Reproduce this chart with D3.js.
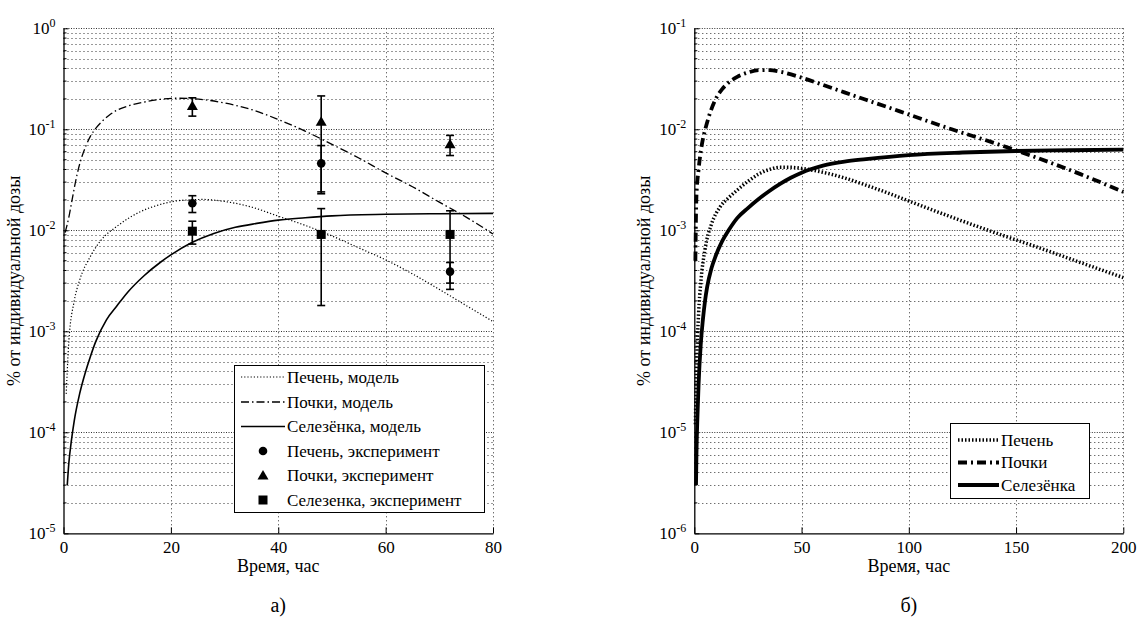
<!DOCTYPE html>
<html><head><meta charset="utf-8">
<script src="https://cdn.jsdelivr.net/npm/d3@7"></script>
<style>
body{margin:0;background:#fff}
svg{display:block}
svg text{font-family:"Liberation Serif","Tinos","Times New Roman","DejaVu Serif",serif;fill:#000}
</style>
</head><body>
<svg id="c" width="1138" height="630"></svg>
<script>
// ---------- DATA: panel а) ----------
const aXTicks = [0, 20, 40, 60, 80];
const aYExp = [0, -1, -2, -3, -4, -5];
const aLiverT = [0.5,1,2,3,5,7,10,14,18,22,26,30,35,40,45,50,55,60,65,70,75,80];
const aLiverV = [2.4e-4,8e-4,2e-3,3.2e-3,5.5e-3,8e-3,0.011,0.015,0.018,0.0198,0.0202,0.0193,0.017,0.0138,0.0112,0.0088,0.0067,0.0051,0.0037,0.0026,0.0018,0.00125];
const aKidneyT = [0.3,1,1.6,2.2,2.8,3.5,4.2,5,6,7,8.5,10,12,15,18,21,24,27,30,35,40,45,50,55,60,65,70,75,80];
const aKidneyV = [0.0095,0.0135,0.02,0.0295,0.041,0.055,0.069,0.085,0.102,0.117,0.138,0.155,0.17,0.186,0.198,0.203,0.201,0.194,0.182,0.157,0.125,0.096,0.071,0.052,0.037,0.027,0.019,0.0135,0.0092];
const aSpleenT = [0.7,1,1.5,2,3,4,5,6,8,10,12,15,18,20,24,28,32,36,40,45,50,60,70,80];
const aSpleenV = [3e-5,5e-5,8.5e-5,1.3e-4,2.4e-4,3.8e-4,5.6e-4,7.9e-4,1.3e-3,1.8e-3,2.45e-3,3.55e-3,4.8e-3,5.7e-3,7.6e-3,9.3e-3,0.0107,0.0117,0.0126,0.0133,0.0139,0.0144,0.0146,0.0147];
const expT = [24, 48, 72];
const expLiver = [0.0185, 0.046, 0.0039];
const expLiverErr = [0.0035, 0.023, 0.0009];
const expKidney = [0.17, 0.119, 0.071];
const expKidneyErr = [0.035, 0.095, 0.016];
const expSpleen = [0.0098, 0.0091, 0.0091];
const expSpleenErr = [0.0025, 0.0073, 0.0065];
const aLegend = ["Печень, модель","Почки, модель","Селезёнка, модель","Печень, эксперимент","Почки, эксперимент","Селезенка, эксперимент"];

// ---------- DATA: panel б) ----------
const bXTicks = [0, 50, 100, 150, 200];
const bYExp = [-1, -2, -3, -4, -5, -6];
const bLiverT = [0.5,1,2,3,5,8,12,16,20,25,30,35,40,45,50,60,70,80,90,100,120,140,160,180,200];
const bLiverV = [1.2e-5,4e-5,1.5e-4,3e-4,6.5e-4,1.15e-3,1.7e-3,2.1e-3,2.5e-3,3.05e-3,3.6e-3,4.0e-3,4.2e-3,4.2e-3,4.1e-3,3.75e-3,3.3e-3,2.8e-3,2.35e-3,1.95e-3,1.35e-3,9.5e-4,6.8e-4,4.8e-4,3.4e-4];
const bKidneyT = [0.5,1,2,3,4,5,7,10,13,16,20,25,30,35,40,50,60,70,80,90,100,120,140,160,180,200];
const bKidneyV = [5e-4,2.2e-3,4e-3,6e-3,8e-3,0.0098,0.0138,0.02,0.025,0.029,0.033,0.0365,0.0385,0.0385,0.0372,0.0325,0.0275,0.0232,0.0196,0.0166,0.014,0.01,0.0073,0.0052,0.0036,0.0024];
const bSpleenT = [0.8,1,1.5,2,3,4,5,6,8,10,13,16,20,25,30,35,40,45,50,60,70,80,100,125,150,175,200];
const bSpleenV = [3e-6,6e-6,1.5e-5,3e-5,7.4e-5,1.3e-4,2e-4,2.75e-4,4.2e-4,5.6e-4,7.8e-4,1.0e-3,1.32e-3,1.66e-3,2.04e-3,2.45e-3,2.88e-3,3.31e-3,3.72e-3,4.37e-3,4.79e-3,5.07e-3,5.56e-3,5.89e-3,6.1e-3,6.2e-3,6.3e-3];
const bLegend = ["Печень","Почки","Селезёнка"];

const yLabel = "% от индивидуальной дозы";
const xLabel = "Время, час";

// ---------- DRAW ----------
const FONT = '"Liberation Serif","Tinos","Times New Roman","DejaVu Serif",serif';
const svg = d3.select("#c").attr("font-family", FONT);

function panel(cfg){
  const g = svg.append("g");
  const x = d3.scaleLinear().domain([cfg.xTicks[0], cfg.xTicks[cfg.xTicks.length-1]]).range([cfg.x0, cfg.x1]);
  const yMax = Math.pow(10, cfg.yExp[0]), yMin = Math.pow(10, cfg.yExp[cfg.yExp.length-1]);
  const y = d3.scaleLog().domain([yMin, yMax]).range([cfg.yB, cfg.yT]);

  // grid
  const grid = g.append("g");
  const minorVals = [];
  for (let e = cfg.yExp[cfg.yExp.length-1]; e < cfg.yExp[0]; e++) {
    for (let m = 2; m <= 9; m++) minorVals.push(m * Math.pow(10, e));
  }
  grid.selectAll("line.mn").data(minorVals).join("line")
    .attr("x1", cfg.x0).attr("x2", cfg.x1)
    .attr("y1", d => Math.round(y(d)) + 0.5).attr("y2", d => Math.round(y(d)) + 0.5)
    .attr("stroke", "#333").attr("stroke-width", 1).attr("stroke-dasharray", "1,3");
  grid.selectAll("line.mj").data(cfg.yExp.slice(0, -1).map(e => Math.pow(10, e))).join("line")
    .attr("x1", cfg.x0).attr("x2", cfg.x1)
    .attr("y1", d => Math.round(y(d)) + 0.5).attr("y2", d => Math.round(y(d)) + 0.5)
    .attr("stroke", "#333").attr("stroke-width", 1).attr("stroke-dasharray", "1,1.5");
  grid.selectAll("line.vx").data(cfg.xTicks.slice(1)).join("line")
    .attr("x1", d => Math.round(x(d)) + 0.5).attr("x2", d => Math.round(x(d)) + 0.5)
    .attr("y1", cfg.yT).attr("y2", cfg.yB)
    .attr("stroke", "#333").attr("stroke-width", 1).attr("stroke-dasharray", "1,3");

  // axes
  const xa = g.append("g").attr("transform", `translate(0,${cfg.yB})`)
    .call(d3.axisBottom(x).tickValues(cfg.xTicks).tickSizeInner(-6).tickSizeOuter(0).tickPadding(8).tickFormat(d3.format("d")));
  xa.attr("font-family", FONT);
  xa.select(".domain").attr("stroke", "#000").attr("stroke-width", 1.3);
  xa.selectAll("text").attr("font-size", 17);

  const ya = g.append("g").attr("transform", `translate(${cfg.x0},0)`)
    .call(d3.axisLeft(y).tickValues(cfg.yExp.map(e => Math.pow(10, e))).tickSizeInner(-5).tickSizeOuter(0).tickPadding(8).tickFormat(""));
  ya.attr("font-family", FONT);
  ya.select(".domain").attr("stroke", "#000").attr("stroke-width", 1.3);
  ya.selectAll(".tick text").each(function(d){
    const t = d3.select(this).attr("font-size", 17);
    t.text(null);
    t.append("tspan").text("10");
    t.append("tspan").attr("font-size", 12).attr("dy", "-0.6em").text(String(Math.round(Math.log10(d))));
  });
  // minor ticks on y
  g.append("g").selectAll("line").data(minorVals).join("line")
    .attr("x1", cfg.x0).attr("x2", cfg.x0 + 3)
    .attr("y1", d => y(d)).attr("y2", d => y(d)).attr("stroke", "#000");

  // labels
  g.append("text").attr("x", (cfg.x0 + cfg.x1) / 2).attr("y", 572).attr("text-anchor", "middle")
    .attr("font-size", 18).text(xLabel);
  g.append("text").attr("transform", `translate(${cfg.yLabX},${(cfg.yT + cfg.yB) / 2}) rotate(-90)`)
    .attr("text-anchor", "middle").attr("font-size", 18).text(yLabel);
  g.append("text").attr("x", (cfg.x0 + cfg.x1) / 2).attr("y", 612).attr("text-anchor", "middle")
    .attr("font-size", 20).text(cfg.caption);

  const plot = g.append("g");
  const line = d3.line().x(d => x(d[0])).y(d => y(d[1])).curve(d3.curveMonotoneX);
  cfg.series.forEach(s => {
    plot.append("path").datum(d3.zip(s.t, s.v)).attr("d", line)
      .attr("fill", "none").attr("stroke", "#000").attr("stroke-width", s.w)
      .attr("stroke-dasharray", s.dash).attr("stroke-linecap", "butt");
  });
  return {g, x, y, plot};
}

function marker(sel, type, cx, cy){
  if (type === "circle") sel.append("circle").attr("cx", cx).attr("cy", cy).attr("r", 4.3).attr("fill", "#000");
  else if (type === "tri") sel.append("path").attr("d", `M${cx},${cy-5.5}L${cx+5.5},${cy+4}L${cx-5.5},${cy+4}Z`).attr("fill", "#000");
  else sel.append("rect").attr("x", cx - 4.5).attr("y", cy - 4.5).attr("width", 9).attr("height", 9).attr("fill", "#000");
}

const A = panel({
  x0: 63.5, x1: 493, yT: 28.3, yB: 533.3, xTicks: aXTicks, yExp: aYExp, yLabX: 20, caption: "а)",
  series: [
    {t: aLiverT, v: aLiverV, w: 1.2, dash: "1.2,2"},
    {t: aKidneyT, v: aKidneyV, w: 1.3, dash: "8,3,1.5,3"},
    {t: aSpleenT, v: aSpleenV, w: 1.6, dash: null}
  ]
});

// error bars + markers
const expSets = [
  {v: expKidney, e: expKidneyErr, m: "tri"},
  {v: expLiver, e: expLiverErr, m: "circle"},
  {v: expSpleen, e: expSpleenErr, m: "square"}
];
expSets.forEach(s => {
  expT.forEach((t, i) => {
    const cx = A.x(t);
    const hi = A.y(s.v[i] + s.e[i]), lo = A.y(s.v[i] - s.e[i]);
    A.plot.append("line").attr("x1", cx).attr("x2", cx).attr("y1", hi).attr("y2", lo).attr("stroke", "#000").attr("stroke-width", 1.6);
    [hi, lo].forEach(yy => A.plot.append("line").attr("x1", cx - 4).attr("x2", cx + 4).attr("y1", yy).attr("y2", yy).attr("stroke", "#000").attr("stroke-width", 1.6));
    marker(A.plot, s.m, cx, A.y(s.v[i]));
  });
});

// legend а)
(function(){
  const lg = svg.append("g");
  lg.append("rect").attr("x", 234.5).attr("y", 365.5).attr("width", 250).attr("height", 147)
    .attr("fill", "#fff").attr("stroke", "#000").attr("stroke-width", 1);
  const rows = [377, 402, 426.5, 451, 475.5, 500];
  const styles = [{dash: "1.2,2", w: 1.2}, {dash: "8,3,1.5,3", w: 1.3}, {dash: null, w: 1.6}];
  const marks = ["circle", "tri", "square"];
  aLegend.forEach((name, i) => {
    const yy = rows[i];
    if (i < 3) lg.append("line").attr("x1", 241).attr("x2", 285).attr("y1", yy).attr("y2", yy)
      .attr("stroke", "#000").attr("stroke-width", styles[i].w).attr("stroke-dasharray", styles[i].dash);
    else marker(lg, marks[i - 3], 263, yy);
    lg.append("text").attr("x", 287).attr("y", yy + 5.5).attr("font-size", 17).text(name);
  });
})();

const B = panel({
  x0: 694.3, x1: 1123.3, yT: 28.3, yB: 533.3, xTicks: bXTicks, yExp: bYExp, yLabX: 650, caption: "б)",
  series: [
    {t: bLiverT, v: bLiverV, w: 3.5, dash: "1.5,2"},
    {t: bKidneyT, v: bKidneyV, w: 3.8, dash: "9,4,2,4"},
    {t: bSpleenT, v: bSpleenV, w: 3.8, dash: null}
  ]
});

// legend б)
(function(){
  const lg = svg.append("g");
  lg.append("rect").attr("x", 950.5).attr("y", 423.5).attr("width", 139).attr("height", 75)
    .attr("fill", "#fff").attr("stroke", "#000").attr("stroke-width", 1);
  const rows = [440, 462.5, 485];
  const styles = [{dash: "1.5,2", w: 3.5}, {dash: "9,4,2,4", w: 3.8}, {dash: null, w: 3.8}];
  bLegend.forEach((name, i) => {
    const yy = rows[i];
    lg.append("line").attr("x1", 958).attr("x2", 999).attr("y1", yy).attr("y2", yy)
      .attr("stroke", "#000").attr("stroke-width", styles[i].w).attr("stroke-dasharray", styles[i].dash);
    lg.append("text").attr("x", 1001).attr("y", yy + 5.5).attr("font-size", 17).text(name);
  });
})();
</script>
</body></html>
